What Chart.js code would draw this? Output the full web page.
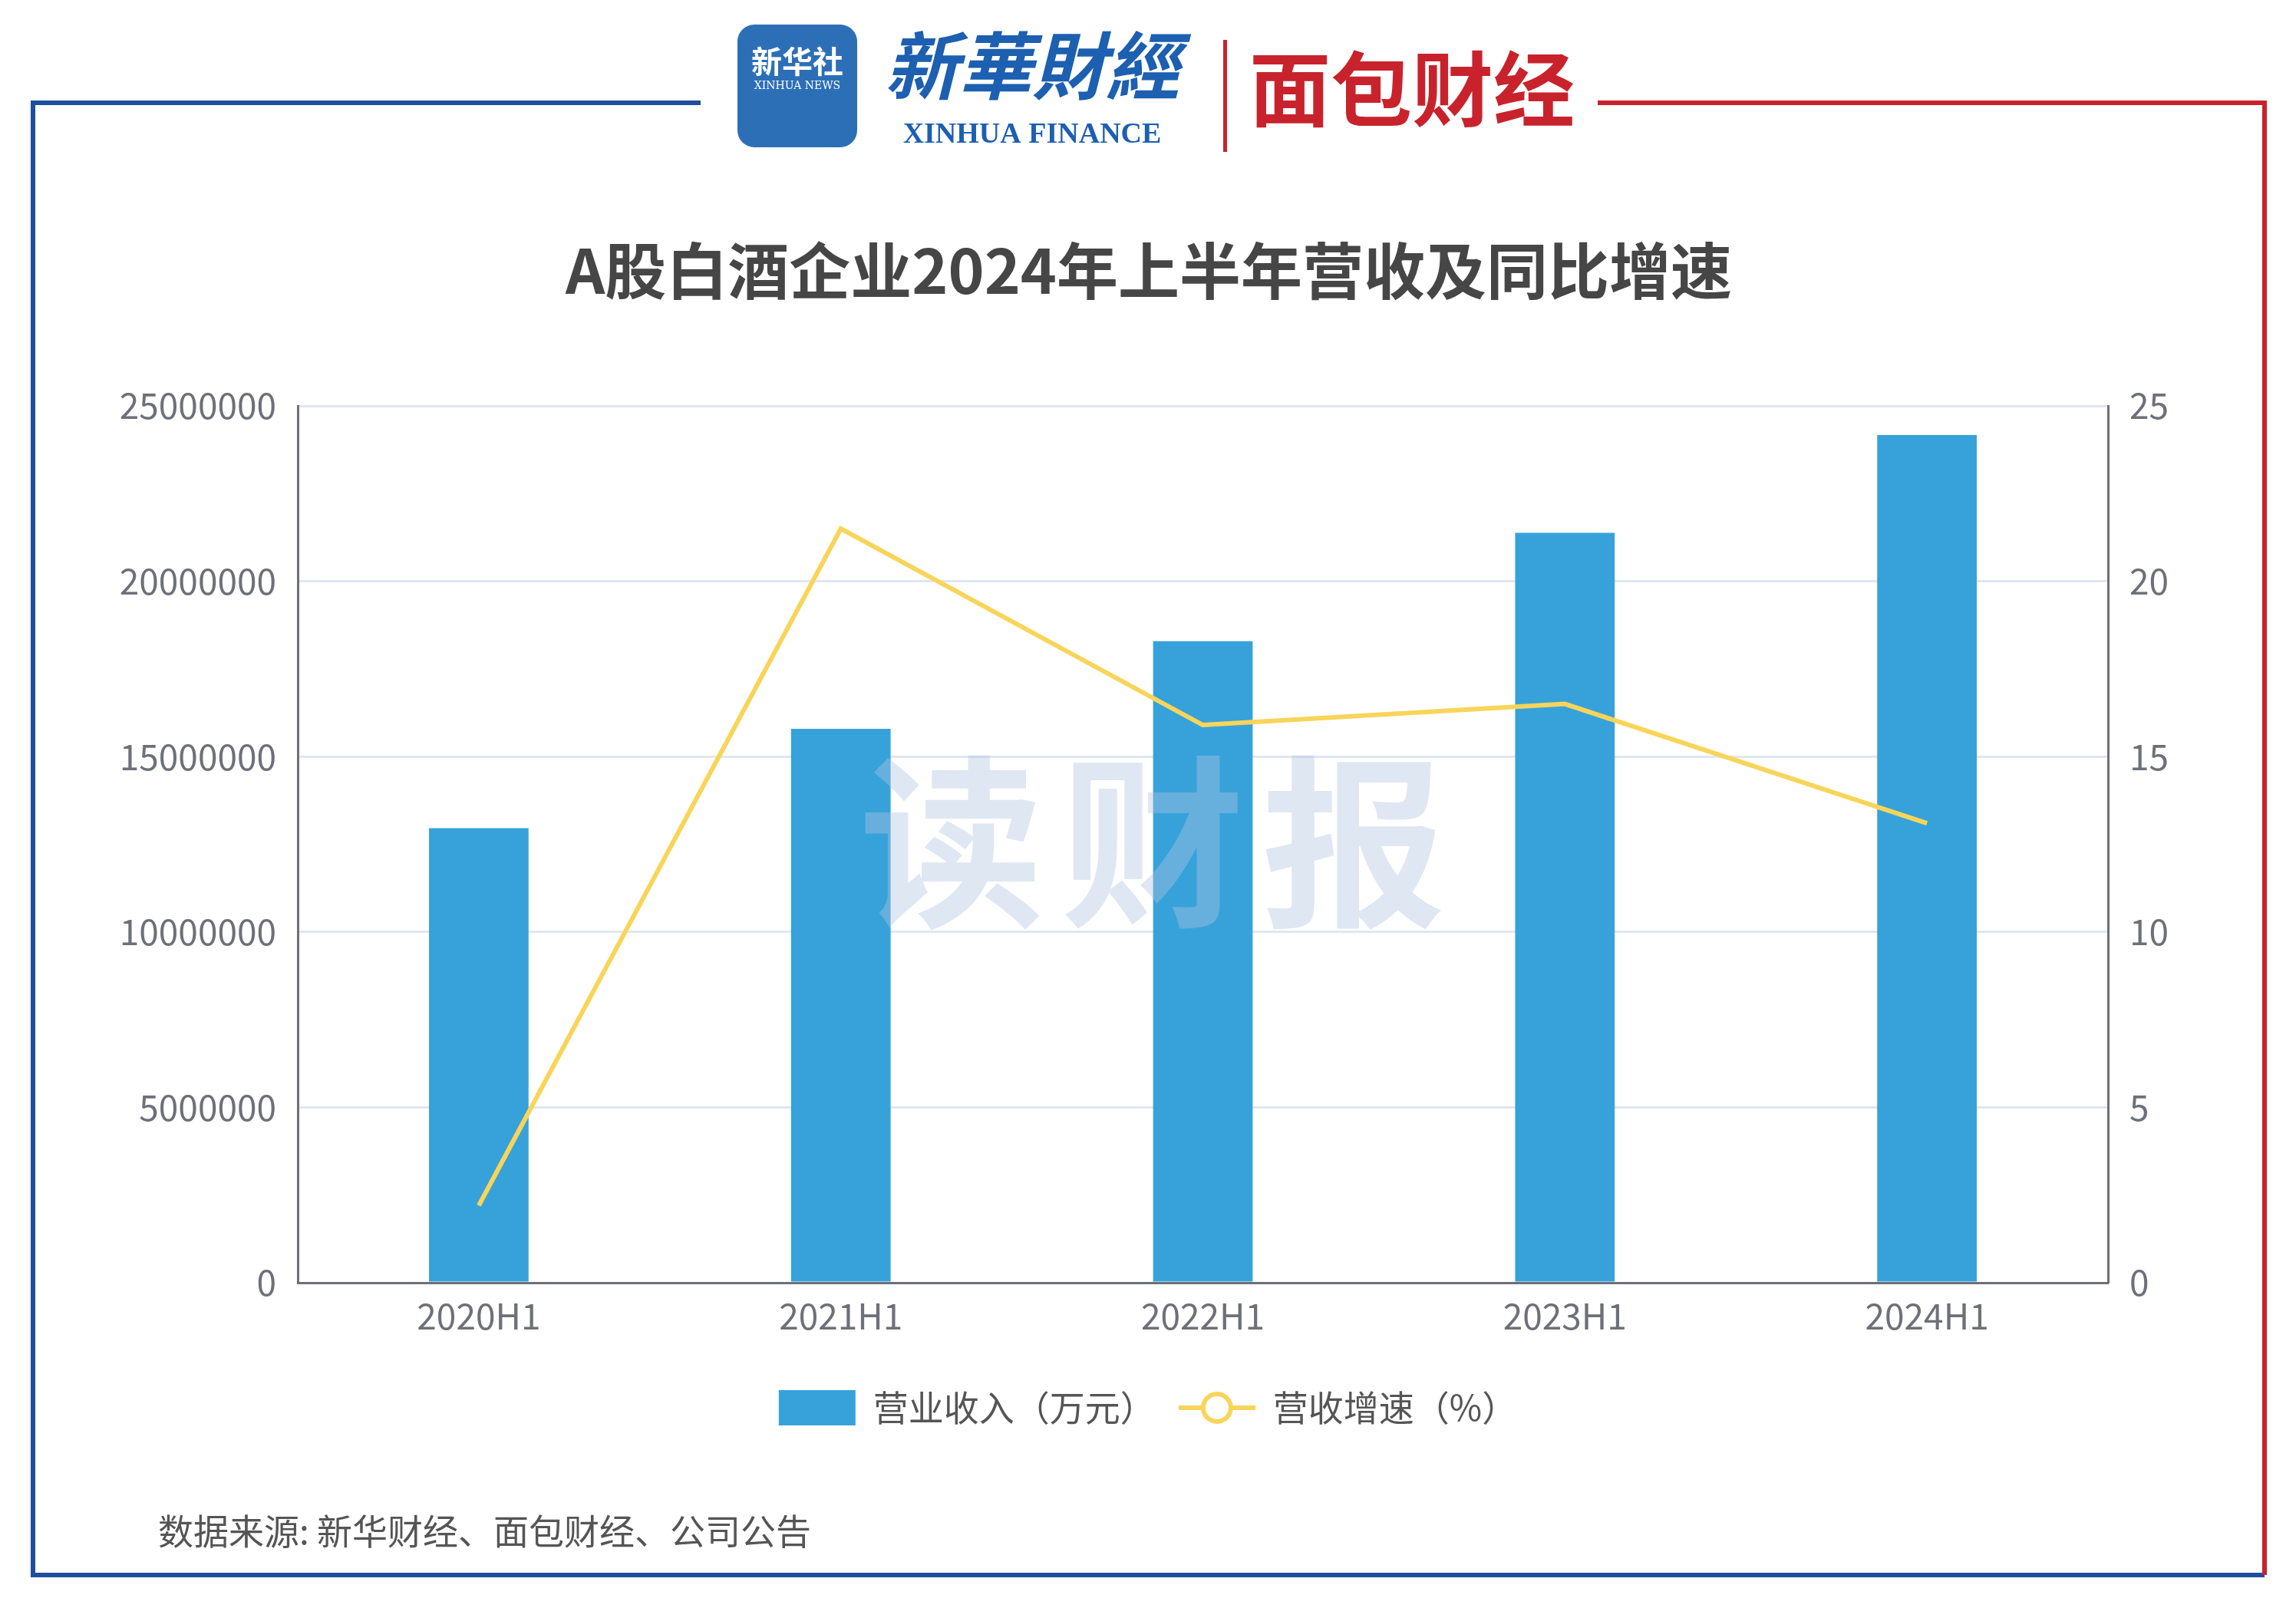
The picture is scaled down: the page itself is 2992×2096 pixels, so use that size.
<!DOCTYPE html>
<html><head><meta charset="utf-8">
<script src="https://cdn.jsdelivr.net/npm/chart.js@4"></script>
<style>html,body{margin:0;padding:0;background:#fff}#wrap{width:2992px;height:2096px}</style>
</head><body><div id="wrap"><canvas id="c" width="2992" height="2096"></canvas></div>
<script>
// Data
const periods = ['2020H1', '2021H1', '2022H1', '2023H1', '2024H1'];
const revenue = [12960000, 15790000, 18290000, 21380000, 24170000];
const growth = [2.2, 21.5, 15.9, 16.5, 13.1];
const leftTicks = [0, 5000000, 10000000, 15000000, 20000000, 25000000];
const rightTicks = [0, 5, 10, 15, 20, 25];

const FONT = '"Noto Sans CJK SC", "Noto Sans", sans-serif';
const LINE_COLOR = '#f8d55a';

// legend marker for the line: short line with hollow circle
const lineMarker = document.createElement('canvas');
lineMarker.width = 100; lineMarker.height = 50;
(() => {
    const m = lineMarker.getContext('2d');
    m.strokeStyle = LINE_COLOR; m.lineWidth = 6;
    m.beginPath(); m.moveTo(0, 25); m.lineTo(100, 25); m.stroke();
    m.fillStyle = '#fff';
    m.beginPath(); m.arc(50, 25, 18, 0, Math.PI * 2); m.fill(); m.stroke();
})();

// frame, logos, title, source
const decor = {
    id: 'decor',
    beforeDraw(chart) {
        const ctx = chart.ctx;
        ctx.save();
        ctx.lineWidth = 6;
        ctx.strokeStyle = '#1f4e9c';
        ctx.beginPath();
        ctx.moveTo(913, 134); ctx.lineTo(43, 134); ctx.lineTo(43, 2053); ctx.lineTo(2951, 2053);
        ctx.stroke();
        ctx.strokeStyle = '#c8232c';
        ctx.beginPath();
        ctx.moveTo(2082, 134); ctx.lineTo(2951, 134); ctx.lineTo(2951, 2053);
        ctx.stroke();
        // xinhua logo box
        ctx.fillStyle = '#2d6fb7';
        ctx.beginPath();
        ctx.roundRect(961, 32, 156, 160, 22);
        ctx.fill();
        ctx.fillStyle = '#fff';
        ctx.font = 'bold 40px ' + FONT;
        ctx.textAlign = 'center';
        ctx.textBaseline = 'middle';
        ctx.fillText('新华社', 1039, 80);
        ctx.font = '14px "DejaVu Serif"';
        ctx.fillText('XINHUA NEWS', 1039, 112);
        ctx.fillStyle = '#1d5fb0';
        ctx.font = 'italic bold 96px ' + FONT;
        ctx.fillText('新華財經', 1345, 86);
        ctx.font = 'bold 38px "Liberation Serif"';
        ctx.fillText('XINHUA FINANCE', 1345, 176);
        ctx.fillStyle = '#c8232c';
        ctx.fillRect(1594, 52, 5, 146);
        ctx.font = 'bold 106px ' + FONT;
        ctx.fillText('面包财经', 1840, 116);
        // title
        ctx.fillStyle = '#464646';
        ctx.font = 'bold 80px ' + FONT;
        ctx.fillText('A股白酒企业2024年上半年营收及同比增速', 1497, 353);
        // source
        ctx.fillStyle = '#555';
        ctx.font = '46px ' + FONT;
        ctx.textAlign = 'left';
        ctx.fillText('数据来源: 新华财经、面包财经、公司公告', 206, 1996);
        ctx.restore();
    },
    // watermark on top of the bars
    afterDatasetsDraw(chart) {
        const ctx = chart.ctx;
        ctx.save();
        ctx.fillStyle = 'rgba(175,195,225,0.4)';
        ctx.font = 'bold 240px ' + FONT;
        ctx.textAlign = 'center';
        ctx.textBaseline = 'middle';
        ['读', '财', '报'].forEach((ch, i) => ctx.fillText(ch, 1240 + i * 262, 1098));
        ctx.restore();
    }
};

new Chart(document.getElementById('c'), {
    data: {
        labels: periods,
        datasets: [
            {
                type: 'line', label: '营收增速（%）', data: growth, yAxisID: 'y1',
                borderColor: LINE_COLOR, backgroundColor: '#fff', borderWidth: 6,
                pointRadius: 0, tension: 0, order: 0
            },
            {
                type: 'bar', label: '营业收入（万元）', data: revenue, yAxisID: 'y',
                backgroundColor: '#37a2da', barPercentage: 0.275, categoryPercentage: 1, order: 1
            }
        ]
    },
    options: {
        responsive: false,
        animation: false,
        layout: { padding: { top: 529, bottom: 228, left: 0, right: 0 } },
        plugins: {
            tooltip: { enabled: false },
            legend: {
                position: 'bottom',
                reverse: true,
                labels: {
                    font: { family: FONT, size: 46 }, color: '#555',
                    usePointStyle: true, boxHeight: 50, pointStyleWidth: 100, padding: 30,
                    generateLabels(chart) {
                        return Chart.defaults.plugins.legend.labels.generateLabels(chart).map(l => {
                            if (l.datasetIndex === 1) { l.pointStyle = 'rect'; l.fillStyle = '#37a2da'; }
                            else { l.pointStyle = lineMarker; }
                            return l;
                        });
                    }
                }
            }
        },
        scales: {
            x: {
                grid: { display: false, drawTicks: true },
                border: { color: '#6e7079', width: 3 },
                ticks: { color: '#6e7079', font: { family: FONT, size: 46 }, padding: 8 },
                afterFit(s) { s.height = 110; }
            },
            y: {
                position: 'left', min: 0, max: 25000000,
                afterBuildTicks(s) { s.ticks = leftTicks.map(v => ({ value: v })); },
                grid: { color: '#e0e6f1', lineWidth: 3, drawTicks: false },
                border: { color: '#6e7079', width: 3 },
                ticks: { color: '#6e7079', font: { family: FONT, size: 46 }, padding: 28, callback: v => String(v) },
                afterFit(s) { s.width = 388; }
            },
            y1: {
                position: 'right', min: 0, max: 25,
                afterBuildTicks(s) { s.ticks = rightTicks.map(v => ({ value: v })); },
                grid: { display: false },
                border: { color: '#6e7079', width: 3 },
                ticks: { color: '#6e7079', font: { family: FONT, size: 46 }, padding: 20 },
                afterFit(s) { s.width = 245; }
            }
        }
    },
    plugins: [decor]
});
</script></body></html>
